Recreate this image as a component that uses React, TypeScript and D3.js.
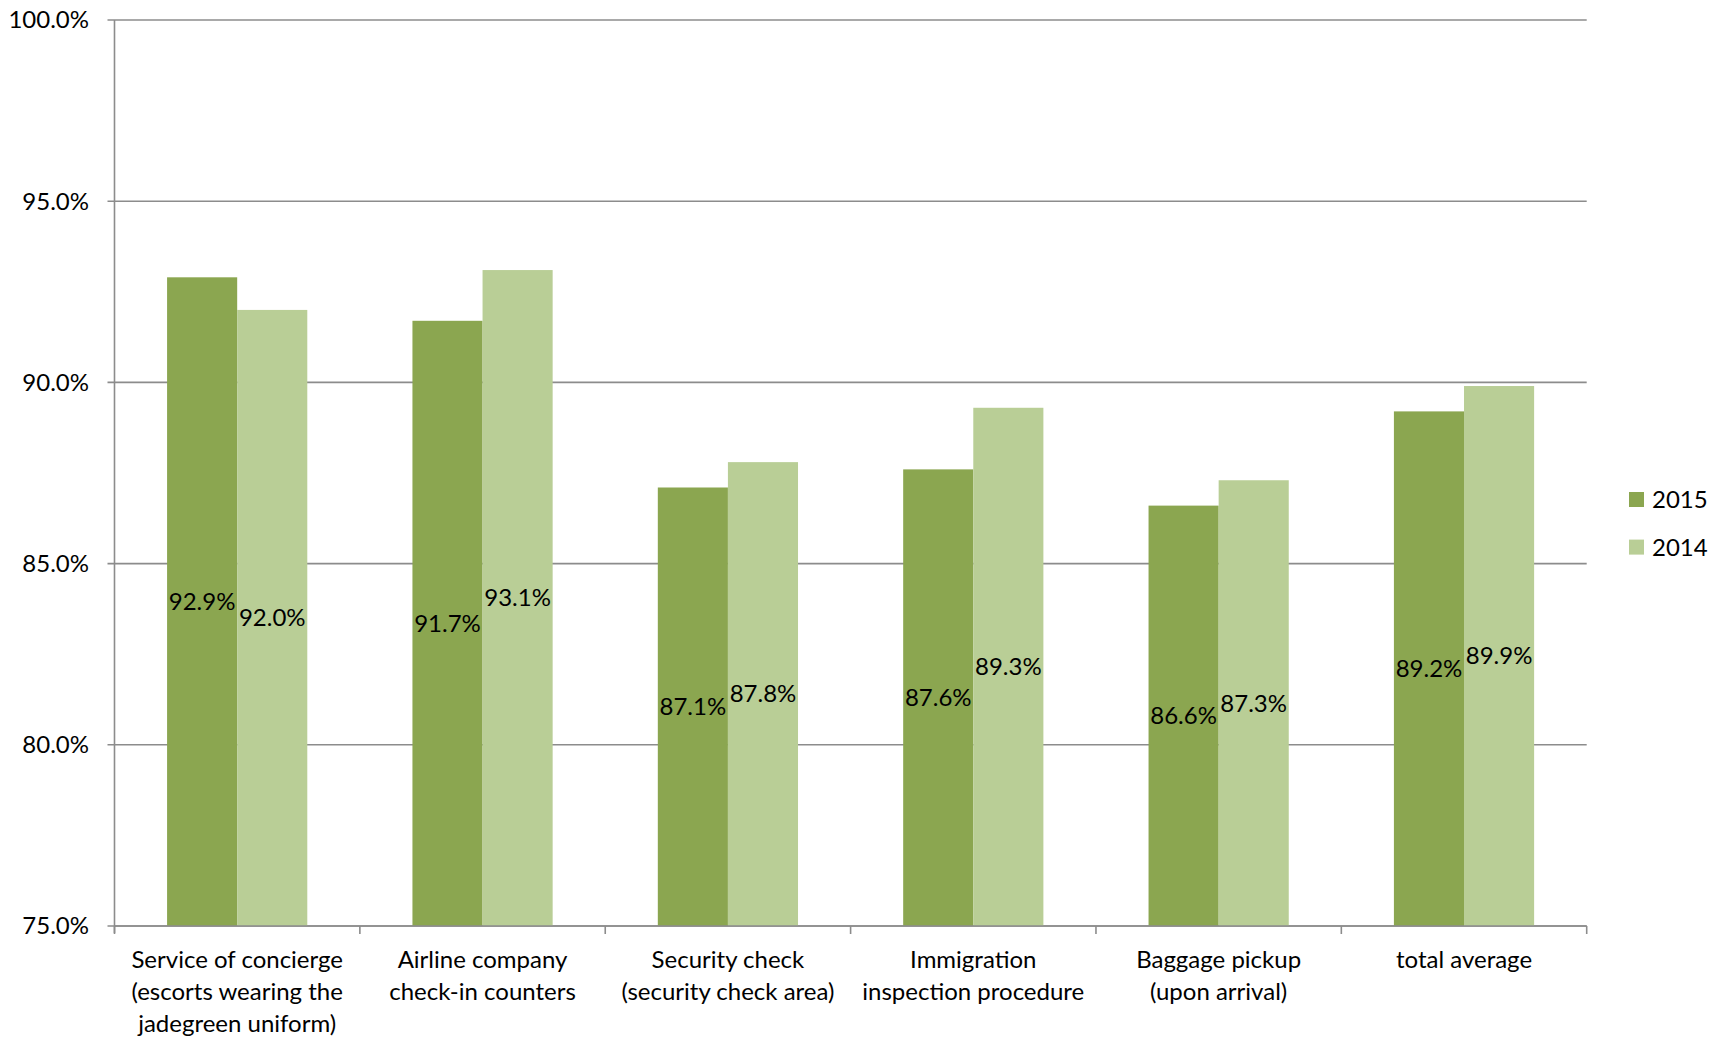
import React from "react";
import * as d3 from "d3";

const categories: string[][] = [
  ["Service of concierge", "(escorts wearing the", "jadegreen uniform)"],
  ["Airline company", "check-in counters"],
  ["Security check", "(security check area)"],
  ["Immigration", "inspection procedure"],
  ["Baggage pickup", "(upon arrival)"],
  ["total average"],
];
const seriesNames = ["2015", "2014"];
const values2015 = [92.9, 91.7, 87.1, 87.6, 86.6, 89.2];
const values2014 = [92.0, 93.1, 87.8, 89.3, 87.3, 89.9];
const yTicks = [75, 80, 85, 90, 95, 100];
const colors = ["#8ba650", "#b9ce96"];

const W = 1721;
const H = 1038;
const X0 = 114.5;
const X1 = 1586.7;
const Y0 = 20;
const Y1 = 926;
const FONT = "Lato, 'Open Sans', sans-serif";
const FS = 24;

export default function App() {
  const idx = categories.map((_, i) => String(i));
  const x = d3.scaleBand<string>().domain(idx).range([X0, X1]).paddingInner(0).paddingOuter(0);
  const bw = x.bandwidth();
  const inner = d3.scaleBand<string>().domain(seriesNames).range([0, bw]).paddingInner(0).paddingOuter(0.75);
  const y = d3.scaleLinear().domain([75, 100]).range([Y1, Y0]);
  const series = [values2015, values2014];
  const gridColor = "#8c8c8c";

  return (
    <svg width={W} height={H} style={{ position: "absolute", left: 0, top: 0, background: "#fff" }} fontFamily={FONT}>
      {/* gridlines */}
      {yTicks.map((t) => (
        <line key={"g" + t} x1={X0 - 7} x2={X1} y1={y(t)} y2={y(t)} stroke={gridColor} strokeWidth={1.6} />
      ))}
      {/* y labels */}
      {yTicks.map((t) => (
        <text key={"yl" + t} x={89} y={y(t)} dy="0.35em" textAnchor="end" fontSize={FS} fill="#000">
          {d3.format(".1f")(t) + "%"}
        </text>
      ))}
      {/* bars */}
      {series.map((vals, s) =>
        vals.map((v, i) => (
          <rect
            key={"b" + s + "-" + i}
            x={(x(String(i)) as number) + (inner(seriesNames[s]) as number)}
            y={y(v)}
            width={inner.bandwidth()}
            height={Y1 - y(v)}
            fill={colors[s]}
          />
        ))
      )}
      {/* y axis line */}
      <line x1={X0} x2={X0} y1={Y0} y2={Y1 + 7} stroke={gridColor} strokeWidth={1.6} />
      {/* x axis line */}
      <line x1={X0} x2={X1} y1={Y1} y2={Y1} stroke={gridColor} strokeWidth={1.6} />
      {/* x ticks */}
      {idx.concat([String(categories.length)]).map((k, i) => {
        const xx = i < categories.length ? (x(k) as number) : X1;
        return <line key={"xt" + i} x1={xx} x2={xx} y1={Y1} y2={Y1 + 8} stroke={gridColor} strokeWidth={1.6} />;
      })}
      {/* data labels */}
      {series.map((vals, s) =>
        vals.map((v, i) => (
          <text
            key={"dl" + s + "-" + i}
            x={(x(String(i)) as number) + (inner(seriesNames[s]) as number) + inner.bandwidth() / 2}
            y={(y(v) + Y1) / 2}
            dy="0.35em"
            textAnchor="middle"
            fontSize={FS}
            fill="#000"
          >
            {d3.format(".1f")(v) + "%"}
          </text>
        ))
      )}
      {/* category labels */}
      {categories.map((lines, i) => (
        <text key={"c" + i} textAnchor="middle" fontSize={FS} fill="#000">
          {lines.map((ln, j) => (
            <tspan key={j} x={(x(String(i)) as number) + bw / 2} y={968 + j * 32}>
              {ln}
            </tspan>
          ))}
        </text>
      ))}
      {/* legend */}
      {seriesNames.map((n, s) => (
        <g key={"lg" + s}>
          <rect x={1629} y={492 + s * 47.6} width={15} height={15} fill={colors[s]} />
          <text x={1652} y={499.5 + s * 47.6} dy="0.35em" fontSize={FS} fill="#000">
            {n}
          </text>
        </g>
      ))}
    </svg>
  );
}
